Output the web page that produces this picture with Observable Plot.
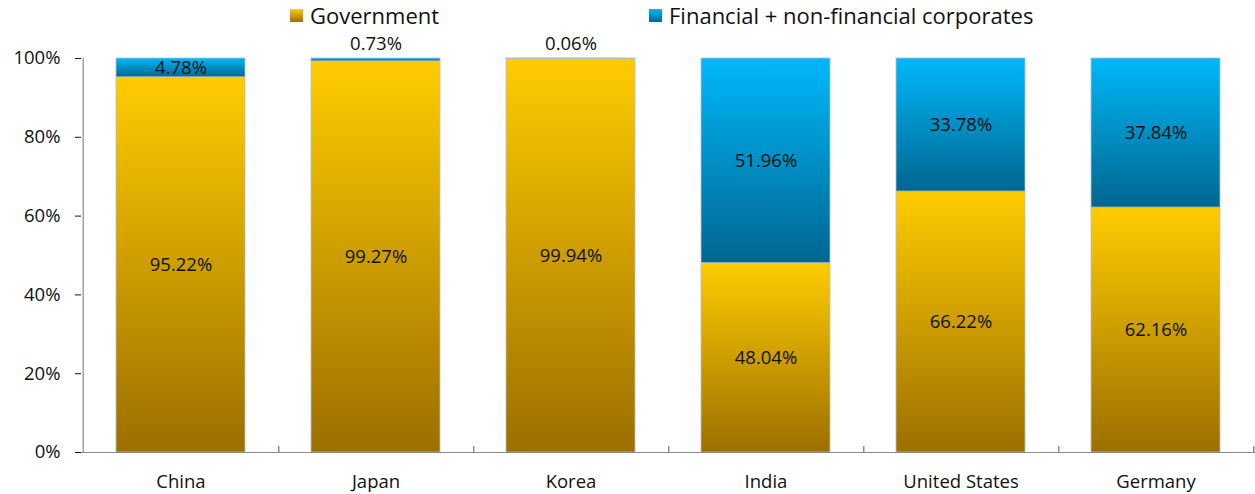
<!DOCTYPE html>
<html>
<head>
<meta charset="utf-8">
<script src="https://cdn.jsdelivr.net/npm/d3@7"></script>
<script src="https://cdn.jsdelivr.net/npm/@observablehq/plot@0.6"></script>
<style>
  body { margin: 0; background: #fff; font-family: "Open Sans", sans-serif; }
  #wrap { position: relative; width: 1255px; height: 494px; }
  #legend { position: absolute; left: 0; top: 0; width: 1255px; height: 28px; font-size: 22px; color: #111; z-index: 2; }
  .item { position: absolute; top: 4px; display: flex; align-items: center; white-space: nowrap; line-height: 22px; }
  .sw { width: 13px; height: 13px; margin-right: 7px; }
</style>
</head>
<body>
<div id="wrap">
  <div id="chart"></div>
  <div id="legend"></div>
</div>
<script>
const countries = ["China", "Japan", "Korea", "India", "United States", "Germany"];
const government = [95.22, 99.27, 99.94, 48.04, 66.22, 62.16];
const corporates = [4.78, 0.73, 0.06, 51.96, 33.78, 37.84];
const seriesNames = ["Government", "Financial + non-financial corporates"];
const yTicks = [0, 20, 40, 60, 80, 100];

const goldStops = ["#ffcc00", "#9c6f00"];
const blueStops = ["#00b8fa", "#006690"];

const data = [];
countries.forEach((c, i) => {
  data.push({country: c, series: seriesNames[0], value: government[i], total: government[i] + corporates[i]});
  data.push({country: c, series: seriesNames[1], value: corporates[i], total: government[i] + corporates[i]});
});

const W = 1255, H = 494, mL = 81, mR = 0, mT = 58, mB = 42;
const step = (W - mL - mR) / countries.length;
const fmt = v => v.toFixed(2) + "%";

const chart = Plot.plot({
  width: W, height: H,
  marginLeft: mL, marginRight: mR, marginTop: mT, marginBottom: mB,
  style: {fontFamily: "Open Sans, sans-serif", fontSize: "18.5px", color: "#111", background: "#fff"},
  x: {domain: countries, paddingInner: 0.34, paddingOuter: 0.17, label: null, tickSize: 0, tickPadding: 22},
  y: {domain: [0, 100], ticks: yTicks, tickFormat: d => d + "%", tickSize: 6, tickPadding: 15, label: null},
  color: {domain: seriesNames, range: ["url(#gGold)", "url(#gBlue)"]},
  marks: [
    Plot.barY(data, Plot.stackY({x: "country", y: "value", fill: "series", order: seriesNames, stroke: "#b8c0c8", strokeWidth: 0.8})),
    Plot.ruleY([0], {stroke: "#8a8a8a", strokeWidth: 1.2}),
    Plot.ruleX([countries[0]], {dx: -step / 2, y1: 0, y2: 100, stroke: "#8a8a8a", strokeWidth: 1.2}),
    Plot.ruleX(countries, {dx: step / 2, y1: 0, y2: 1.5, stroke: "#555", strokeWidth: 1}),
    Plot.text(data, Plot.stackY({x: "country", y: "value", order: seriesNames, z: "series",
      text: d => d.value >= 1 ? fmt(d.value) : "", fill: "#111", fontSize: 18.5})),
    Plot.text(data.filter(d => d.value < 1), {x: "country", y: "total", text: d => fmt(d.value), dy: -14, fill: "#111", fontSize: 18.5})
  ]
});

const svg = d3.select(chart.tagName === "svg" ? chart : chart.querySelector("svg"));
const defs = svg.insert("defs", ":first-child");
[["gGold", goldStops], ["gBlue", blueStops]].forEach(([id, stops]) => {
  const g = defs.append("linearGradient").attr("id", id).attr("x1", 0).attr("y1", 0).attr("x2", 0).attr("y2", 1);
  g.append("stop").attr("offset", "0%").attr("stop-color", stops[0]);
  g.append("stop").attr("offset", "100%").attr("stop-color", stops[1]);
});
document.getElementById("chart").appendChild(chart);

const legend = document.getElementById("legend");
const lefts = [290, 649];
seriesNames.forEach((s, i) => {
  const stops = i === 0 ? goldStops : blueStops;
  const it = document.createElement("div");
  it.className = "item";
  it.style.left = lefts[i] + "px";
  it.innerHTML = `<span class="sw" style="background:linear-gradient(${stops[0]}, ${stops[1]})"></span><span>${s}</span>`;
  legend.appendChild(it);
});
</script>
</body>
</html>
